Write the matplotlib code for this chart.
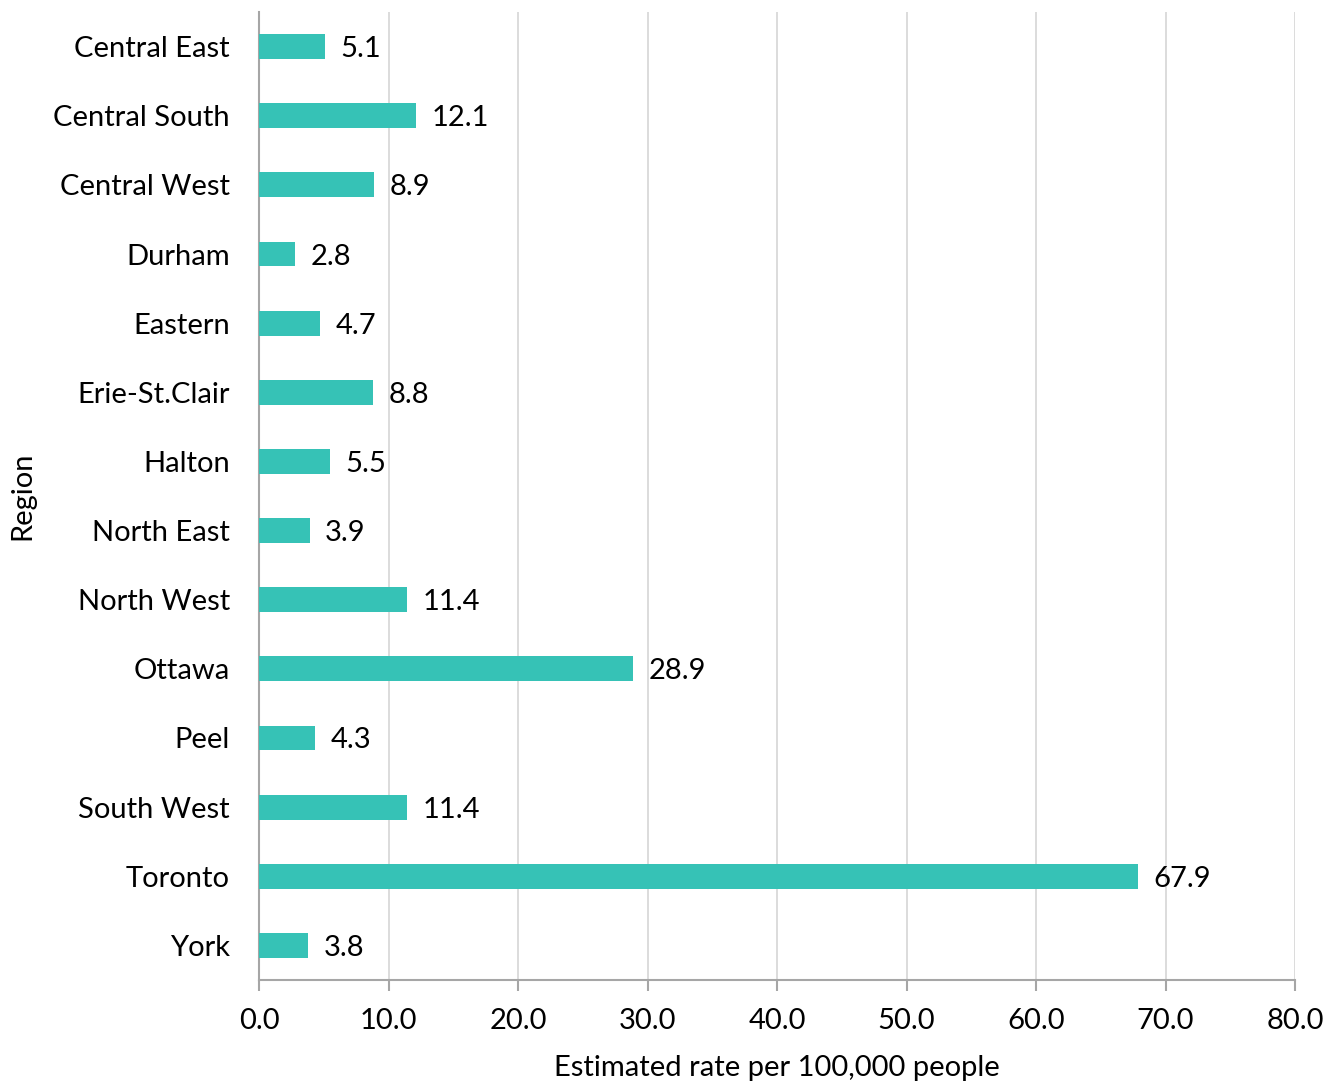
import matplotlib
matplotlib.use("Agg")
import matplotlib.pyplot as plt

regions = ["Central East", "Central South", "Central West", "Durham", "Eastern",
           "Erie-St.Clair", "Halton", "North East", "North West", "Ottawa",
           "Peel", "South West", "Toronto", "York"]
rates = [5.1, 12.1, 8.9, 2.8, 4.7, 8.8, 5.5, 3.9, 11.4, 28.9, 4.3, 11.4, 67.9, 3.8]
xticks = [0, 10, 20, 30, 40, 50, 60, 70, 80]

plt.rcParams['font.family'] = ['Lato', 'DejaVu Sans']

fig = plt.figure(figsize=(13.38, 10.82), dpi=100)
ax = fig.add_axes([259/1338, 1 - 980/1082, (1295-259)/1338, (980-12)/1082])

ypos = list(range(len(regions)))
ax.barh(ypos, rates, height=0.36, color="#36C2B6", zorder=3)
for y, v in zip(ypos, rates):
    ax.text(v + 1.2, y, f"{v:.1f}", va="center_baseline", ha="left", fontsize=21, color="#000000")

ax.set_yticks(ypos)
ax.set_yticklabels(regions, fontsize=21)
ax.set_ylim(len(regions) - 0.5, -0.5)
ax.set_xlim(0, 80)
ax.set_xticks(xticks)
ax.set_xticklabels([f"{t:.1f}" for t in xticks], fontsize=21)
ax.xaxis.grid(True, color="#D9D9D9", linewidth=1.3, zorder=0)
ax.set_axisbelow(True)

for s in ["top", "right"]:
    ax.spines[s].set_visible(False)
for s in ["left", "bottom"]:
    ax.spines[s].set_color("#A6A6A6")
    ax.spines[s].set_linewidth(1.5)
ax.tick_params(axis="x", length=8, width=1.5, color="#A6A6A6", pad=12)
ax.tick_params(axis="y", length=0, pad=21)

ax.set_xlabel("Estimated rate per 100,000 people", fontsize=21, labelpad=15)
ax.set_ylabel("Region", fontsize=21, va="center", ha="center")
ax.yaxis.set_label_coords((22 - 259) / 1036, 0.5)

fig.savefig("out.png", dpi=100)
